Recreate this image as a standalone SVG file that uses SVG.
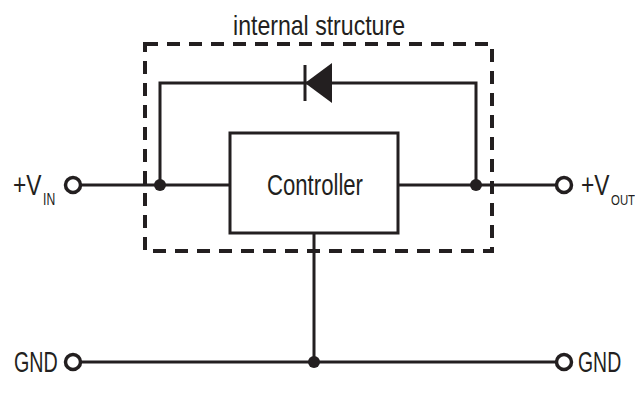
<svg xmlns="http://www.w3.org/2000/svg" width="635" height="403" viewBox="0 0 635 403">
<style>
.w{stroke:#231f20;stroke-width:3;fill:none}
.t{font-family:"Liberation Sans",Arial,sans-serif;fill:#231f20}
.dot{fill:#231f20}
.term{fill:#fff;stroke:#231f20;stroke-width:3.5}
</style>
<rect width="635" height="403" fill="#fff"/>
<g id="boundary">
<rect x="145" y="44" width="347" height="207" fill="none" stroke="#231f20" stroke-width="4" stroke-dasharray="13 9"/>
<text class="t" x="319" y="35" font-size="28" text-anchor="middle" textLength="172" lengthAdjust="spacingAndGlyphs">internal structure</text>
</g>
<g id="connectors">
<path class="w" d="M80 185 H230 M398 185 H556"/>
<path class="w" d="M160 185 V83 H476 V185"/>
<path class="w" d="M314 233 V362 M80 362 H556"/>
</g>
<g id="diode">
<polygon points="305,83 332,63 332,103" fill="#231f20"/>
<line x1="305" y1="65" x2="305" y2="101" stroke="#231f20" stroke-width="3"/>
</g>
<g id="controller">
<rect x="230" y="133" width="168" height="100" fill="#fff" stroke="#231f20" stroke-width="3"/>
<text class="t" x="315" y="195" font-size="29" text-anchor="middle" textLength="96" lengthAdjust="spacingAndGlyphs">Controller</text>
</g>
<g id="junctions">
<circle class="dot" cx="160" cy="185" r="6"/>
<circle class="dot" cx="476" cy="185" r="6"/>
<circle class="dot" cx="314" cy="362" r="6"/>
</g>
<g id="vin">
<circle class="term" cx="73" cy="185" r="7.5"/>
<text class="t" font-size="30" transform="translate(13,195) scale(0.76,1)">+V<tspan dx="2" dy="10" font-size="16">IN</tspan></text>
</g>
<g id="vout">
<circle class="term" cx="564" cy="185" r="7.5"/>
<text class="t" font-size="30" transform="translate(581,195) scale(0.76,1)">+V<tspan dx="2" dy="10" font-size="15">OUT</tspan></text>
</g>
<g id="gnd-left">
<circle class="term" cx="73" cy="362" r="7.5"/>
<text class="t" font-size="29" transform="translate(14,372) scale(0.68,1)">GND</text>
</g>
<g id="gnd-right">
<circle class="term" cx="564" cy="362" r="7.5"/>
<text class="t" font-size="29" transform="translate(578,372) scale(0.67,1)">GND</text>
</g>
</svg>
